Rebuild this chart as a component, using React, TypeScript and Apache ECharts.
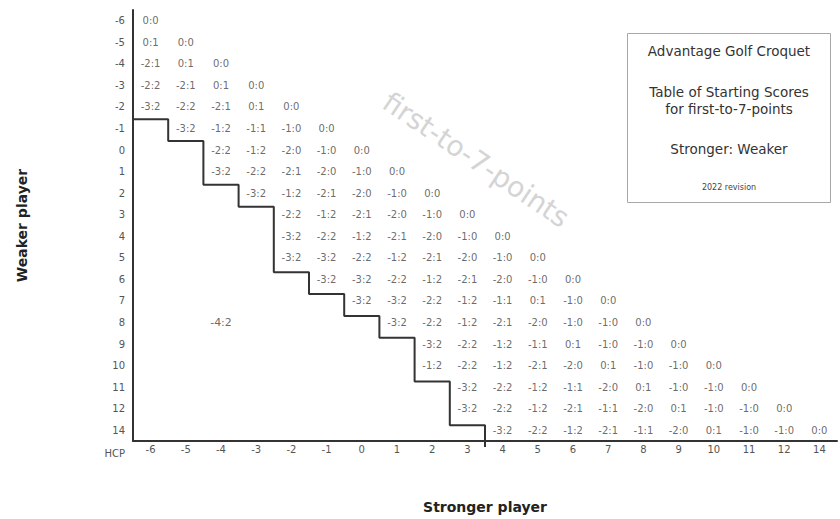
import React, { useEffect, useRef } from 'react';
import * as echarts from 'echarts';

const strongerCategories = ['-6', '-5', '-4', '-3', '-2', '-1', '0', '1', '2', '3', '4', '5', '6', '7', '8', '9', '10', '11', '12', '14'];
const weakerCategories = ['-6', '-5', '-4', '-3', '-2', '-1', '0', '1', '2', '3', '4', '5', '6', '7', '8', '9', '10', '11', '12', '14'];

// first stronger-column index that holds a score, for each weaker row
const rowStartIndex = [0, 0, 0, 0, 0, 1, 2, 2, 3, 4, 4, 4, 5, 6, 7, 8, 8, 9, 9, 10];

const rowScores: string[][] = [
  ['0:0'],
  ['0:1', '0:0'],
  ['-2:1', '0:1', '0:0'],
  ['-2:2', '-2:1', '0:1', '0:0'],
  ['-3:2', '-2:2', '-2:1', '0:1', '0:0'],
  ['-3:2', '-1:2', '-1:1', '-1:0', '0:0'],
  ['-2:2', '-1:2', '-2:0', '-1:0', '0:0'],
  ['-3:2', '-2:2', '-2:1', '-2:0', '-1:0', '0:0'],
  ['-3:2', '-1:2', '-2:1', '-2:0', '-1:0', '0:0'],
  ['-2:2', '-1:2', '-2:1', '-2:0', '-1:0', '0:0'],
  ['-3:2', '-2:2', '-1:2', '-2:1', '-2:0', '-1:0', '0:0'],
  ['-3:2', '-3:2', '-2:2', '-1:2', '-2:1', '-2:0', '-1:0', '0:0'],
  ['-3:2', '-3:2', '-2:2', '-1:2', '-2:1', '-2:0', '-1:0', '0:0'],
  ['-3:2', '-3:2', '-2:2', '-1:2', '-1:1', '0:1', '-1:0', '0:0'],
  ['-3:2', '-2:2', '-1:2', '-2:1', '-2:0', '-1:0', '-1:0', '0:0'],
  ['-3:2', '-2:2', '-1:2', '-1:1', '0:1', '-1:0', '-1:0', '0:0'],
  ['-1:2', '-2:2', '-1:2', '-2:1', '-2:0', '0:1', '-1:0', '-1:0', '0:0'],
  ['-3:2', '-2:2', '-1:2', '-1:1', '-2:0', '0:1', '-1:0', '-1:0', '0:0'],
  ['-3:2', '-2:2', '-1:2', '-2:1', '-1:1', '-2:0', '0:1', '-1:0', '-1:0', '0:0'],
  ['-3:2', '-2:2', '-1:2', '-2:1', '-1:1', '-2:0', '0:1', '-1:0', '-1:0', '0:0'],
];

const extraCells = [{ stronger: '-4', weaker: '8', score: '-4:2' }];

const FONT = 'DejaVu Sans';

export default function App() {
  const ref = useRef<HTMLDivElement>(null);

  useEffect(() => {
    if (!ref.current) return;
    const chart = echarts.init(ref.current, undefined, { renderer: 'svg' });

    const cellData: any[] = [];
    rowScores.forEach((scores, r) => {
      scores.forEach((s, k) => {
        cellData.push([strongerCategories[rowStartIndex[r] + k], weakerCategories[r], s]);
      });
    });
    const extraData = extraCells.map((c) => [c.stronger, c.weaker, c.score]);

    const firstRow = rowStartIndex.findIndex((s) => s > 0);
    const stair: number[][] = [[0, firstRow]];
    for (let r = firstRow; r < rowStartIndex.length; r++) {
      stair.push([rowStartIndex[r], r]);
      stair.push([rowStartIndex[r], r + 1]);
    }

    const boxX = 729;
    const option: any = {
      animation: false,
      backgroundColor: '#ffffff',
      grid: [
        { left: 133, right: 3, top: 10, bottom: 72 },
        { left: 133, right: 3, top: 10, bottom: 72 },
      ],
      xAxis: [
        {
          type: 'category',
          gridIndex: 0,
          data: strongerCategories,
          axisLine: { lineStyle: { color: '#333', width: 2 } },
          axisTick: { show: false },
          splitLine: { show: false },
          axisLabel: { color: '#555', fontSize: 10, margin: 3, fontFamily: FONT },
          name: 'Stronger player',
          nameLocation: 'middle',
          nameGap: 59,
          nameTextStyle: { fontSize: 14, fontWeight: 'bold', color: '#222', fontFamily: FONT },
        },
        { type: 'value', gridIndex: 1, min: 0, max: 20, show: false },
      ],
      yAxis: [
        {
          type: 'category',
          gridIndex: 0,
          inverse: true,
          data: weakerCategories,
          axisLine: { lineStyle: { color: '#333', width: 2 } },
          axisTick: { show: false },
          splitLine: { show: false },
          axisLabel: { color: '#555', fontSize: 10, margin: 8, fontFamily: FONT },
          name: 'Weaker player',
          nameLocation: 'middle',
          nameGap: 104,
          nameTextStyle: { fontSize: 14, fontWeight: 'bold', color: '#222', fontFamily: FONT },
        },
        { type: 'value', gridIndex: 1, min: 0, max: 20, inverse: true, show: false },
      ],
      graphic: [
        {
          type: 'text',
          x: 476,
          y: 160,
          rotation: (-34 * Math.PI) / 180,
          z: 0,
          style: {
            text: 'first-to-7-points',
            fontSize: 28,
            fontFamily: FONT,
            fill: '#d4d4d4',
            textAlign: 'center',
            textVerticalAlign: 'middle',
          },
        },
        {
          type: 'text',
          x: 125,
          y: 453,
          style: { text: 'HCP', fontSize: 10, fontFamily: FONT, fill: '#555', textAlign: 'right', textVerticalAlign: 'middle' },
        },
        {
          type: 'rect',
          shape: { x: 627.5, y: 33.5, width: 203, height: 169 },
          style: { fill: '#fff', stroke: '#a8a8a8', lineWidth: 1 },
          z: 5,
        },
        {
          type: 'text', x: boxX, y: 51, z: 6,
          style: { text: 'Advantage Golf Croquet', fontSize: 13.5, fontFamily: FONT, fill: '#333', textAlign: 'center', textVerticalAlign: 'middle' },
        },
        {
          type: 'text', x: boxX, y: 92, z: 6,
          style: { text: 'Table of Starting Scores', fontSize: 13.5, fontFamily: FONT, fill: '#333', textAlign: 'center', textVerticalAlign: 'middle' },
        },
        {
          type: 'text', x: boxX, y: 109, z: 6,
          style: { text: 'for first-to-7-points', fontSize: 13.5, fontFamily: FONT, fill: '#333', textAlign: 'center', textVerticalAlign: 'middle' },
        },
        {
          type: 'text', x: boxX, y: 149, z: 6,
          style: { text: 'Stronger: Weaker', fontSize: 13.5, fontFamily: FONT, fill: '#333', textAlign: 'center', textVerticalAlign: 'middle' },
        },
        {
          type: 'text', x: boxX, y: 187, z: 6,
          style: { text: '2022 revision', fontSize: 8, fontFamily: FONT, fill: '#444', textAlign: 'center', textVerticalAlign: 'middle' },
        },
      ],
      series: [
        {
          type: 'scatter',
          xAxisIndex: 0,
          yAxisIndex: 0,
          data: cellData,
          symbolSize: 0,
          z: 3,
          label: {
            show: true,
            position: 'inside',
            formatter: (p: any) => p.value[2],
            fontSize: 10,
            fontFamily: FONT,
            color: '#444',
          },
        },
        {
          type: 'scatter',
          xAxisIndex: 0,
          yAxisIndex: 0,
          data: extraData,
          symbolSize: 0,
          z: 3,
          label: {
            show: true,
            position: 'inside',
            formatter: (p: any) => p.value[2],
            fontSize: 11,
            fontFamily: FONT,
            color: '#444',
          },
        },
        {
          type: 'line',
          xAxisIndex: 1,
          yAxisIndex: 1,
          data: stair,
          symbol: 'none',
          z: 4,
          lineStyle: { color: '#333', width: 2 },
        },
      ],
    };

    chart.setOption(option);
    return () => chart.dispose();
  }, []);

  return <div ref={ref} style={{ position: 'fixed', left: 0, top: 0, width: 840, height: 519 }} />;
}
